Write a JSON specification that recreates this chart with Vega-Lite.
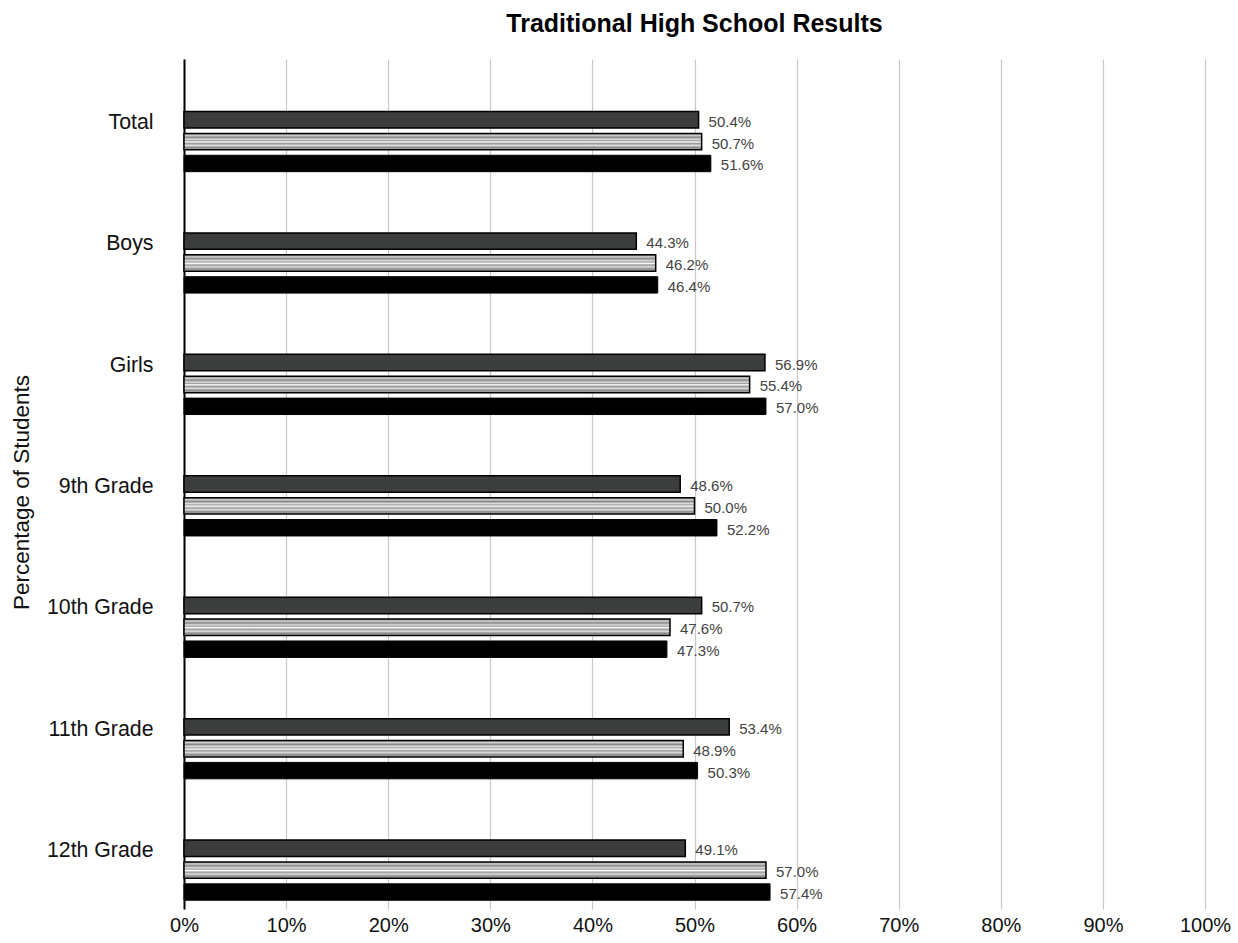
{
  "$schema": "https://vega.github.io/schema/vega-lite/v6.json",
  "width": 1021,
  "height": 850,
  "autosize": {"type": "none"},
  "padding": {"left": 184, "top": 59, "right": 33, "bottom": 34},
  "background": "white",
  "title": {"text": "Traditional High School Results", "font": "Liberation Sans", "fontSize": 25, "fontWeight": "bold", "color": "#000", "anchor": "middle", "offset": 22},
  "config": {"view": {"stroke": null}},
  "data": {"values": [
    {"group": "Total", "series": "Series 1", "pct": 50.4},
    {"group": "Total", "series": "Series 2", "pct": 50.7},
    {"group": "Total", "series": "Series 3", "pct": 51.6},
    {"group": "Boys", "series": "Series 1", "pct": 44.3},
    {"group": "Boys", "series": "Series 2", "pct": 46.2},
    {"group": "Boys", "series": "Series 3", "pct": 46.4},
    {"group": "Girls", "series": "Series 1", "pct": 56.9},
    {"group": "Girls", "series": "Series 2", "pct": 55.4},
    {"group": "Girls", "series": "Series 3", "pct": 57.0},
    {"group": "9th Grade", "series": "Series 1", "pct": 48.6},
    {"group": "9th Grade", "series": "Series 2", "pct": 50.0},
    {"group": "9th Grade", "series": "Series 3", "pct": 52.2},
    {"group": "10th Grade", "series": "Series 1", "pct": 50.7},
    {"group": "10th Grade", "series": "Series 2", "pct": 47.6},
    {"group": "10th Grade", "series": "Series 3", "pct": 47.3},
    {"group": "11th Grade", "series": "Series 1", "pct": 53.4},
    {"group": "11th Grade", "series": "Series 2", "pct": 48.9},
    {"group": "11th Grade", "series": "Series 3", "pct": 50.3},
    {"group": "12th Grade", "series": "Series 1", "pct": 49.1},
    {"group": "12th Grade", "series": "Series 2", "pct": 57.0},
    {"group": "12th Grade", "series": "Series 3", "pct": 57.4}
  ]},
  "encoding": {
    "y": {
      "field": "group", "type": "nominal",
      "sort": ["Total", "Boys", "Girls", "9th Grade", "10th Grade", "11th Grade", "12th Grade"],
      "scale": {"paddingInner": 0, "paddingOuter": 0},
      "axis": {
        "title": "Percentage of Students", "titleFont": "Liberation Sans", "titleFontSize": 22.5, "titleFontWeight": "normal", "titleColor": "#111",
        "titleX": -163, "titleY": 433, "titleAngle": -90, "titleBaseline": "middle", "titleAlign": "center",
        "labelFont": "Liberation Sans", "labelFontSize": 21.3, "labelColor": "#111", "labelPadding": 31, "labelOffset": 3,
        "ticks": false, "grid": false, "domain": true, "domainColor": "#000", "domainWidth": 2
      }
    },
    "yOffset": {
      "field": "series", "type": "nominal",
      "scale": {"domain": ["_p1", "_p2", "Series 1", "Series 2", "Series 3"], "paddingInner": 0.25, "paddingOuter": 0.4}
    },
    "x": {
      "field": "pct", "type": "quantitative",
      "scale": {"domain": [0, 100], "nice": false},
      "axis": {
        "title": null, "values": [0, 10, 20, 30, 40, 50, 60, 70, 80, 90, 100],
        "labelExpr": "datum.value + '%'", "labelFlush": false, "labelOverlap": false,
        "grid": true, "gridColor": "#c8c8c8", "gridWidth": 1.2,
        "domain": false, "ticks": false,
        "labelFont": "Liberation Sans", "labelFontSize": 20, "labelColor": "#111", "labelPadding": 6
      }
    }
  },
  "layer": [
    {
      "transform": [{"filter": "datum.series === 'Series 1'"}],
      "mark": {"type": "bar", "fill": "#3c3e3d", "stroke": "#000", "strokeWidth": 1.5}
    },
    {
      "transform": [{"filter": "datum.series === 'Series 2'"}],
      "mark": {
        "type": "bar", "stroke": "#000", "strokeWidth": 1.5,
        "fill": {
          "gradient": "linear", "x1": 0, "y1": 0, "x2": 0, "y2": 1,
          "stops": [
            {"offset": 0, "color": "#7a7a7a"},
            {"offset": 0.12, "color": "#d0d0d0"},
            {"offset": 0.24, "color": "#888888"},
            {"offset": 0.36, "color": "#e0e0e0"},
            {"offset": 0.44, "color": "#a0a0a0"},
            {"offset": 0.52, "color": "#ffffff"},
            {"offset": 0.62, "color": "#999999"},
            {"offset": 0.74, "color": "#dddddd"},
            {"offset": 0.86, "color": "#888888"},
            {"offset": 1, "color": "#bbbbbb"}
          ]
        }
      }
    },
    {
      "transform": [{"filter": "datum.series === 'Series 3'"}],
      "mark": {"type": "bar", "fill": "#000", "stroke": "#000", "strokeWidth": 1}
    },
    {
      "mark": {
        "type": "text", "align": "left", "baseline": "middle", "dx": 10, "dy": 2,
        "font": "Liberation Sans", "fontSize": 15, "color": "#444",
        "text": {"expr": "format(datum.pct, '.1f') + '%'"}
      }
    }
  ]
}
